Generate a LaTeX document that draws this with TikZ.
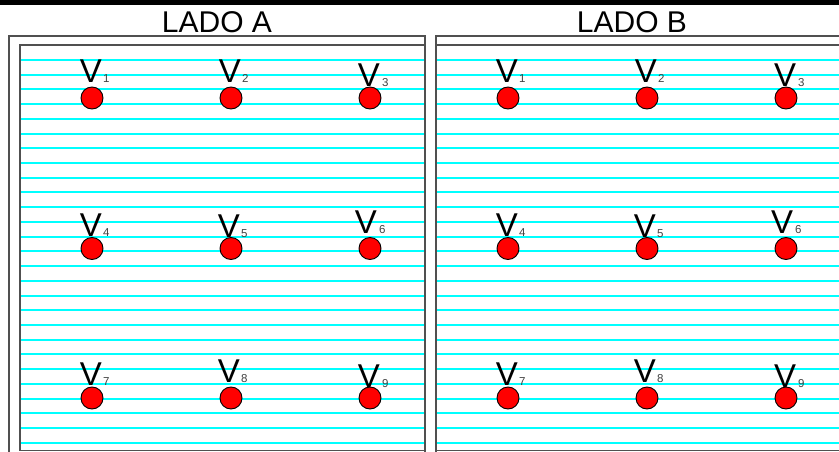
\documentclass[tikz,border=0pt]{standalone}
\usepackage{fontspec}
\setmainfont{Liberation Sans}
\definecolor{aqua}{RGB}{0,255,255}
\definecolor{framegray}{RGB}{80,80,80}
\definecolor{pointred}{RGB}{255,0,0}
\begin{document}
\begin{tikzpicture}[x=1pt,y=-1pt,
  frameline/.style={draw=framegray, line width=1.5pt},
  ruleline/.style={draw=aqua, line width=2pt},
  dot/.style={circle, fill=pointred, draw=black, line width=0.9pt, minimum size=22pt, inner sep=0pt},
  vlab/.style={anchor=base, inner sep=0pt, font=\fontsize{33}{33}\selectfont},
  sublab/.style={anchor=base west, inner sep=0pt, text=black!75, font=\fontsize{11.5}{11.5}\selectfont},
  titlelab/.style={anchor=base, inner sep=0pt, font=\fontsize{30}{30}\selectfont}]
\useasboundingbox (0,0) rectangle (839,452);
\clip (0,0) rectangle (839,452);
% top bar
\fill[black] (0,0.5) rectangle (839,5);
% ruled lines
\foreach \k in {0,...,26}{
  \pgfmathsetmacro{\ry}{round(60+14.72*\k)}
  \draw[ruleline] (20,\ry) -- (425,\ry);
  \draw[ruleline] (436,\ry) -- (850,\ry);
}
% left panel frame
\draw[frameline] (9,460) -- (9,36) -- (425,36) -- (425,460);
\draw[frameline] (20,450.5) -- (20,45) -- (425,45);
\draw[frameline] (20,450.5) -- (425,450.5);
% right panel frame
\draw[frameline] (436,460) -- (436,36) -- (850,36);
\draw[frameline] (436,45) -- (850,45);
\draw[frameline] (436,450.5) -- (850,450.5);
% titles
\node[titlelab] (titleA) at (217,33) {LADO A};
\node[titlelab] (titleB) at (632,33) {LADO B};
% points
\foreach \side/\ox in {A/0,B/416}{
  \foreach \n/\cx/\cy/\by/\vx/\sx in {1/92/98/83/-1/11, 2/231/98/83/-1/11, 3/370/98/87/-1/12,
                                  4/92/248.5/236/-1/11, 5/231/248.5/237/-2/10, 6/370/248.5/233/-4/9,
                                  7/92/398/385/-1/11, 8/231/398/382/-2/10, 9/370/398/387/-1/12}{
    \node[dot] (dot\side\n) at ({\cx+\ox},\cy) {};
    \node[vlab] (v\side\n) at ({\cx+\ox+\vx},\by) {V};
    \node[sublab] (s\side\n) at ({\cx+\ox+\sx},\by) {\n};
  }
}
\end{tikzpicture}
\end{document}
